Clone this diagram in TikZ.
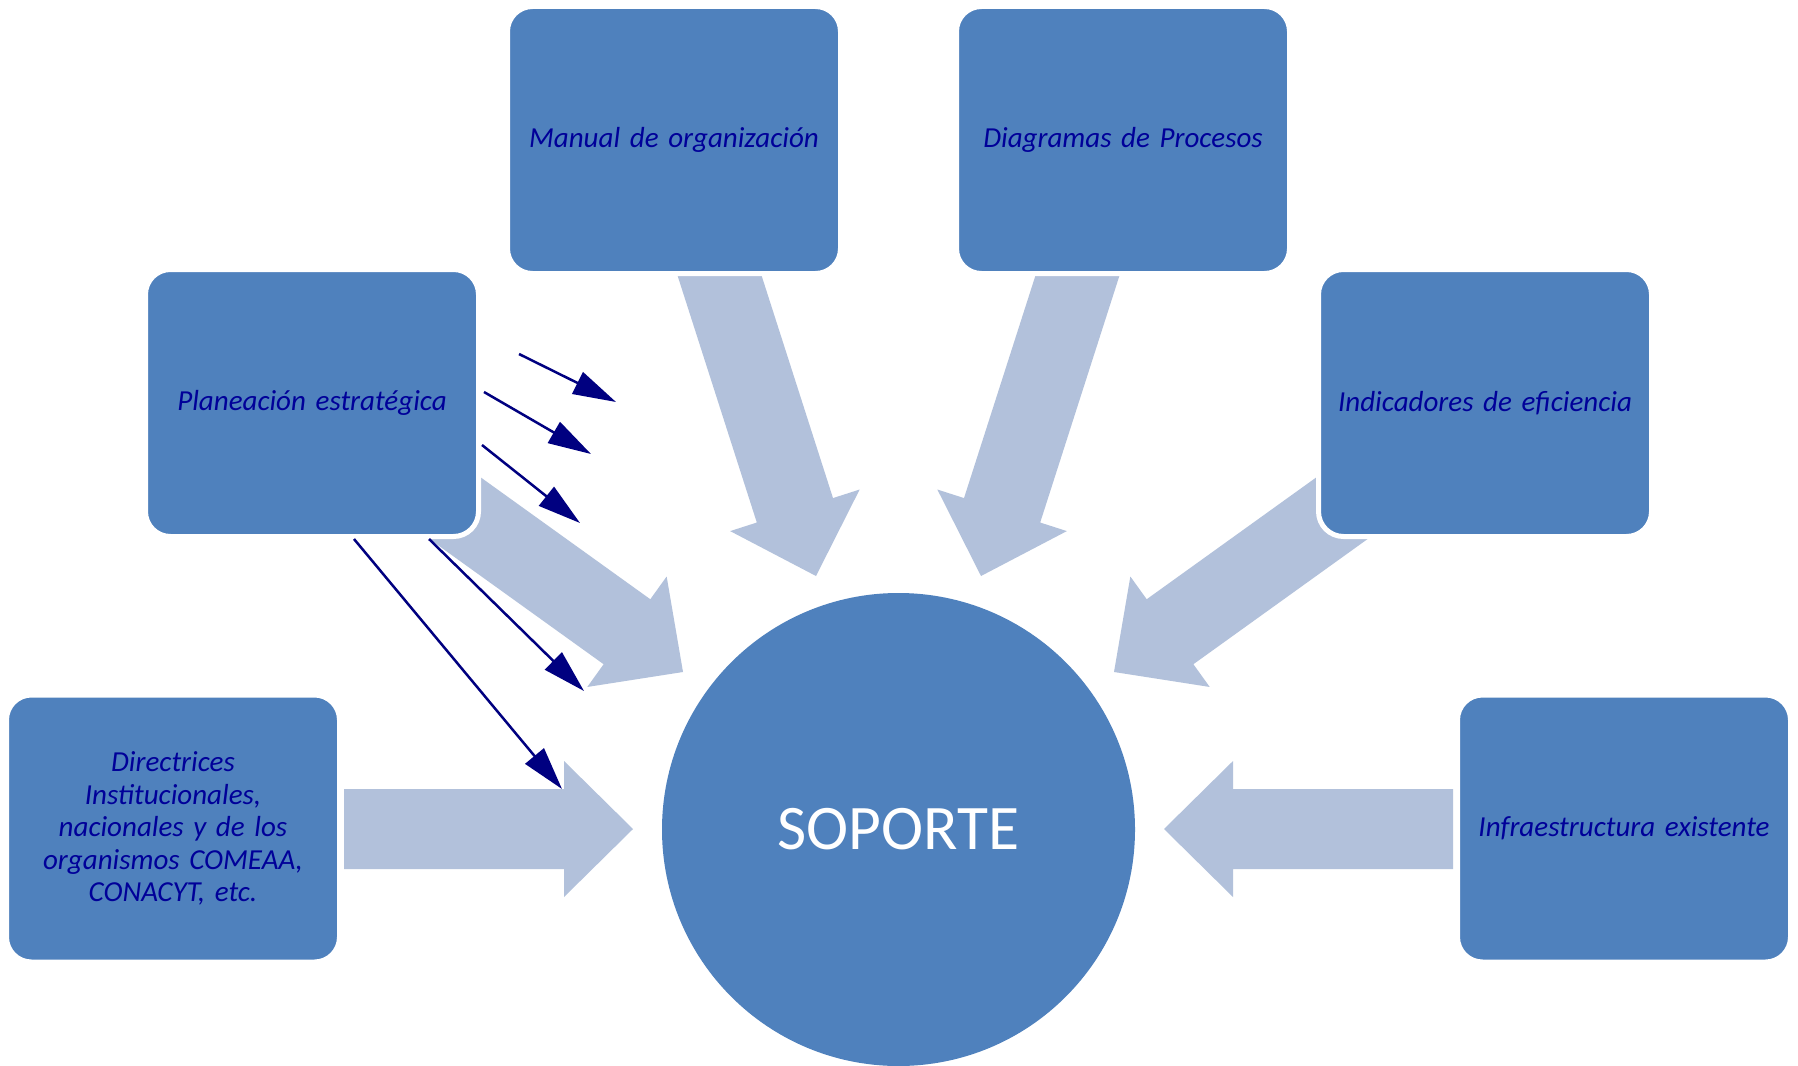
\documentclass[tikz,border=0pt]{standalone}
\usepackage{fontspec}
\setmainfont{Carlito}
\usetikzlibrary{arrows.meta}

\definecolor{boxblue}{HTML}{4F81BD}
\definecolor{pale}{HTML}{B2C1DB}
\definecolor{ink}{HTML}{000099}
\definecolor{navyline}{HTML}{000080}

% wide block arrow: #1 tip coordinate, #2 direction angle, #3 total length
\newcommand{\blockarrow}[3]{%
  \fill[pale, shift={#1}, rotate=#2]
    (0,0) -- (-69,68) -- (-69,40) -- (-#3,40) -- (-#3,-40)
    -- (-69,-40) -- (-69,-68) -- cycle;
}

\tikzset{
  box/.style={rectangle, rounded corners=25pt, fill=boxblue, draw=white,
    line width=5pt, minimum width=333pt, minimum height=267pt, inner sep=0pt,
    text=ink, align=center, text width=300pt,
    font=\fontsize{29}{32.5}\selectfont\itshape},
  hub/.style={circle, fill=boxblue, minimum size=473pt, inner sep=0pt,
    text=white, font=\fontsize{63.5}{70}\selectfont},
  thinarrow/.style={draw=navyline, line width=2.5pt,
    -{Triangle[length=43pt,width=24pt]}, fill=navyline}
}

\begin{document}
\begin{tikzpicture}[x=1pt,y=-1pt]
  \useasboundingbox (0,0) rectangle (1798,1065);
  \fill[white] (0,0) rectangle (1798,1065);

  % tips of the wide arrows
  \coordinate (tipL) at (633,829);
  \coordinate (tipR) at (1164,829);
  \coordinate (tipM) at (816,576);
  \coordinate (tipD) at (981,576);
  \coordinate (tipP) at (683,672);
  \coordinate (tipI) at (1114,672);

  \blockarrow{(tipL)}{0}{289}
  \blockarrow{(tipR)}{180}{289}
  \blockarrow{(tipM)}{-72.2}{340}
  \blockarrow{(tipD)}{-107.8}{340}
  \blockarrow{(tipP)}{-35.7}{300}
  \blockarrow{(tipI)}{-144.3}{300}

  % boxes
  \node[box] (manual) at (674,140) {Manual de organización};
  \node[box] (diag) at (1123,140) {Diagramas de Procesos};
  \node[box] (plan) at (312,403) {Planeación estratégica};
  \node[box] (indic) at (1485,403) {Indicadores de eficiencia};
  \node[box] (direc) at (173,828.5) {Directrices\\Institucionales,\\nacionales y de los\\organismos COMEAA,\\CONACYT, etc.};
  \node[box] (infra) at (1624,828.5) {Infraestructura existente};

  % central circle
  \node[hub] (soporte) at (898.5,829.5) {SOPORTE};

  % thin arrows
  \coordinate (a1s) at (519,354); \coordinate (a1e) at (616,402);
  \coordinate (a2s) at (484,392); \coordinate (a2e) at (591,454);
  \coordinate (a3s) at (482,445); \coordinate (a3e) at (580,523);
  \coordinate (a4s) at (429,539); \coordinate (a4e) at (584,691);
  \coordinate (a5s) at (354,539); \coordinate (a5e) at (562,789);
  \draw[thinarrow] (a1s) -- (a1e);
  \draw[thinarrow] (a2s) -- (a2e);
  \draw[thinarrow] (a3s) -- (a3e);
  \draw[thinarrow] (a4s) -- (a4e);
  \draw[thinarrow] (a5s) -- (a5e);
\end{tikzpicture}
\end{document}
